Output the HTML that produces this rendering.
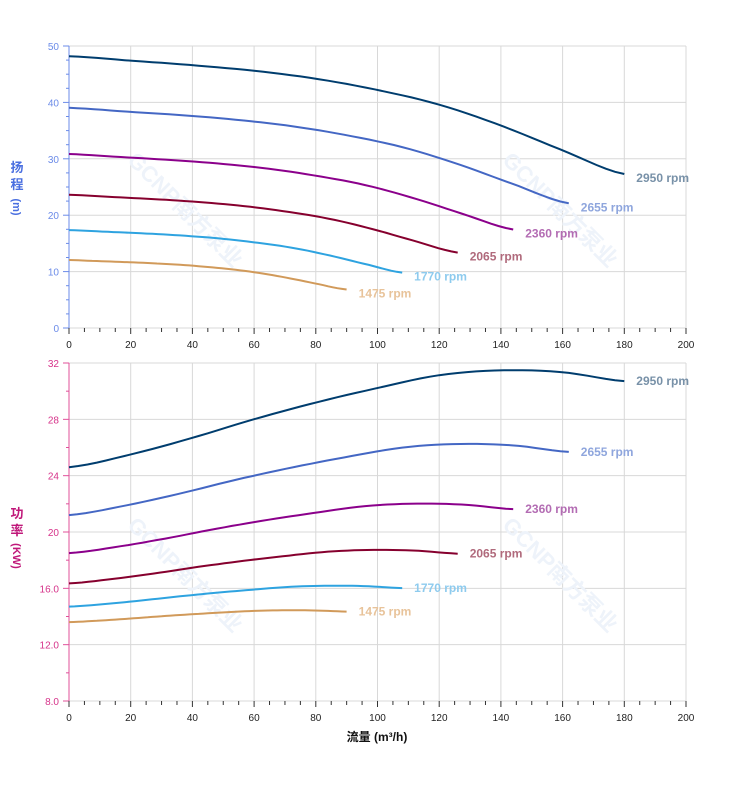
<!DOCTYPE html>
<html><head><meta charset="utf-8"><style>
body{margin:0;background:#fff;}
svg text{font-family:"Liberation Sans","Noto Sans CJK SC",sans-serif;}
</style></head><body>
<svg id="s" width="752" height="797" xmlns="http://www.w3.org/2000/svg"></svg>
<script>
const s=document.getElementById('s');let h='';
const X=q=>69+q*3.085;
const YT=v=>328-v*5.64;
const YB=v=>701-(v-8)*14.083;
for(let q=0;q<=200;q+=20){h+=`<line x1="${X(q)}" y1="46" x2="${X(q)}" y2="328" stroke="#d8d8d8"/>`;h+=`<line x1="${X(q)}" y1="363" x2="${X(q)}" y2="701" stroke="#d8d8d8"/>`;}
for(let v=0;v<=50;v+=10)h+=`<line x1="69" y1="${YT(v)}" x2="686" y2="${YT(v)}" stroke="#d8d8d8"/>`;
for(let v=8;v<=32;v+=4)h+=`<line x1="69" y1="${YB(v)}" x2="686" y2="${YB(v)}" stroke="#d8d8d8"/>`;
h+=`<line x1="69" y1="46" x2="69" y2="328" stroke="#6b8be8"/><line x1="69" y1="363" x2="69" y2="701" stroke="#e0509a"/>`;
for(let v=0;v<=50;v+=2.5){let w=v%10==0?6:3;h+=`<line x1="${69-w}" y1="${YT(v)}" x2="69" y2="${YT(v)}" stroke="#6b8be8"/>`;}
for(let v=0;v<=50;v+=10)h+=`<text x="59" y="${YT(v)+4}" font-size="10" fill="#6b8be8" text-anchor="end">${v}</text>`;
for(let v=8;v<=32;v+=2){let w=v%4==0?6:3;h+=`<line x1="${69-w}" y1="${YB(v)}" x2="69" y2="${YB(v)}" stroke="#e0509a"/>`;}
for(let v=8;v<=32;v+=4)h+=`<text x="59" y="${YB(v)+4}" font-size="10" fill="#d6338a" text-anchor="end">${v<16?v.toFixed(1):(v==16?'16.0':v)}</text>`;
for(const yb of [328,701]){for(let q=0;q<=200;q+=5){let w=q%20==0?6:4;h+=`<line x1="${X(q)}" y1="${yb}" x2="${X(q)}" y2="${yb+w}" stroke="#333"/>`;}
for(let q=0;q<=200;q+=20)h+=`<text x="${X(q)}" y="${yb+20}" font-size="10" fill="#222" text-anchor="middle">${q}</text>`;}
h+=`<text x="377" y="741" font-size="12" font-weight="bold" fill="#111" text-anchor="middle">流量 (m³/h)</text>`;
h+=`<text x="17" y="172" font-size="13" font-weight="bold" fill="#4a6fe0" text-anchor="middle">扬</text><text x="17" y="189" font-size="13" font-weight="bold" fill="#4a6fe0" text-anchor="middle">程</text><text transform="translate(13,207) rotate(90)" font-size="11" font-weight="bold" fill="#4a6fe0" text-anchor="middle">(m)</text>`;
h+=`<text x="17" y="518" font-size="13" font-weight="bold" fill="#c0187a" text-anchor="middle">功</text><text x="17" y="535" font-size="13" font-weight="bold" fill="#c0187a" text-anchor="middle">率</text><text transform="translate(13,556) rotate(90)" font-size="11" font-weight="bold" fill="#c0187a" text-anchor="middle">(KW)</text>`;
for(const [x,y] of [[180,215],[555,215],[180,580],[555,580]])h+=`<text transform="translate(${x},${y}) rotate(45)" font-size="22" font-weight="bold" fill="#eef3fa" text-anchor="middle">GCNP南方泵业</text>`;
const H0=[[0,48.2],[20,47.4],[40,46.6],[60,45.6],[80,44.2],[100,42.2],[120,39.6],[140,35.9],[160,31.5],[180,27.3]];
const G=[[0,0],[.111,.13],[.222,.30],[.333,.49],[.444,.66],[.556,.81],[.667,.94],[.778,.99],[.889,.97],[1,.88]];
function interp(a,x){for(let i=1;i<a.length;i++)if(x<=a[i][0]){let t=(x-a[i-1][0])/(a[i][0]-a[i-1][0]);
 let p0=a[Math.max(i-2,0)],p1=a[i-1],p2=a[i],p3=a[Math.min(i+1,a.length-1)];
 let m1=(p2[1]-p0[1])/2,m2=(p3[1]-p1[1])/2,t2=t*t,t3=t2*t;
 return (2*t3-3*t2+1)*p1[1]+(t3-2*t2+t)*m1+(-2*t3+3*t2)*p2[1]+(t3-t2)*m2;}return a[a.length-1][1];}
const C=[[2950,'#003d6e','#7891a8',24.6,31.55],[2655,'#4467c4','#8fa6dd',21.2,26.3],[2360,'#8b008b','#b36cb3',18.5,22.05],[2065,'#86002e','#b06a7c',16.35,18.75],[1770,'#2ea3e0','#8ecbee',14.7,16.2],[1475,'#d19a5a','#e8c39a',13.6,14.45]];
for(const [n,c,lc,p0,pk] of C){const r=n/2950,qm=180*r;let a='',b='';
 for(let i=0;i<=60;i++){let q=qm*i/60;let hh=r*r*interp(H0,q/r);let p=p0+(pk-p0)*interp(G,i/60);
  a+=(i?'L':'M')+X(q).toFixed(1)+','+YT(hh).toFixed(1);b+=(i?'L':'M')+X(q).toFixed(1)+','+YB(p).toFixed(1);}
 h+=`<path d="${a}" fill="none" stroke="${c}" stroke-width="2"/><path d="${b}" fill="none" stroke="${c}" stroke-width="2"/>`;
 let he=r*r*27.3,pe=p0+(pk-p0)*.88;
 h+=`<text x="${X(qm)+12}" y="${YT(he)+8}" font-size="12" font-weight="bold" fill="${lc}">${n} rpm</text>`;
 h+=`<text x="${X(qm)+12}" y="${YB(pe)+4}" font-size="12" font-weight="bold" fill="${lc}">${n} rpm</text>`;}
s.innerHTML=h;
</script>
</body></html>
